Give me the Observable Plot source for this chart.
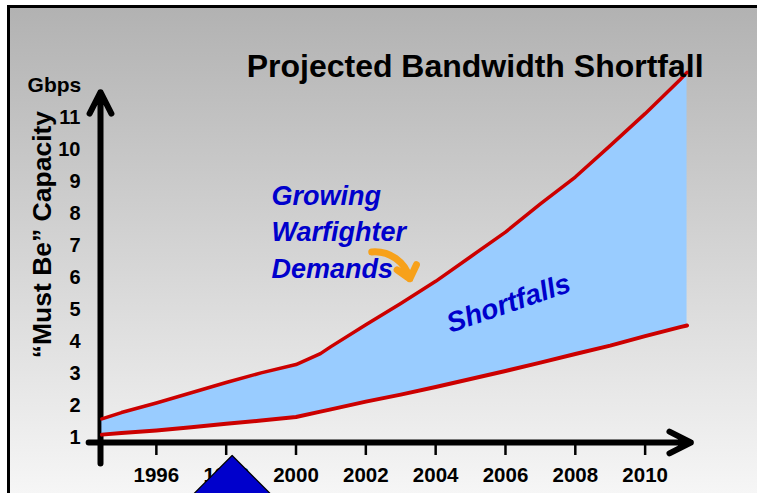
<!DOCTYPE html>
<html><head><meta charset="utf-8">
<script src="https://cdn.jsdelivr.net/npm/d3@7"></script>
<script src="https://cdn.jsdelivr.net/npm/@observablehq/plot@0.6"></script>
<style>
html,body{margin:0;padding:0;background:#fff;}
#wrap{position:relative;width:757px;height:493px;overflow:hidden;background:#fff;}
#slide{position:absolute;left:7px;top:5px;width:800px;height:500px;border:3px solid #000;background:linear-gradient(to bottom,#b2b2b2 0%,#f8f8f8 100%);}
#chart{position:absolute;left:0;top:0;}
</style></head><body>
<div id="wrap"><div id="slide"></div><div id="chart"></div></div>
<script>
// Data
const years = [1994.44, 1995, 1996, 1997, 1998, 1999, 2000, 2000.7, 2001, 2002, 2003, 2004, 2005, 2006, 2007, 2008, 2009, 2010, 2011, 2011.2];
const demand = [1.58, 1.78, 2.08, 2.40, 2.72, 3.02, 3.28, 3.62, 3.84, 4.52, 5.19, 5.88, 6.65, 7.42, 8.30, 9.14, 10.12, 11.12, 12.18, 12.41];
const capacity = [1.09, 1.14, 1.22, 1.32, 1.43, 1.53, 1.64, 1.81, 1.88, 2.12, 2.34, 2.58, 2.83, 3.08, 3.34, 3.61, 3.87, 4.17, 4.45, 4.50];
const xTicks = [1996, 1998, 2000, 2002, 2004, 2006, 2008, 2010];
const xTickLabels = ["1996", "1998", "2000", "2002", "2004", "2006", "2008", "2010"];
const yTicks = [1, 2, 3, 4, 5, 6, 7, 8, 9, 10, 11];
const yTickLabels = ["1", "2", "3", "4", "5", "6", "7", "8", "9", "10", "11"];

// Axis arrows, pointer triangle and annotation anchors (data units)
const axisArrows = [
  {x1: 1994.4, y1: 0.19, x2: 1994.4, y2: 11.79},
  {x1: 1994.06, y1: 0.844, x2: 2011.31, y2: 0.844}
];
const pointer = [
  {x: 1996.31, y: -1.59}, {x: 1998.17, y: 0.4375}, {x: 2000.03, y: -1.59}
];
const demandArrow = [{x1: 2002.17, y1: 6.80, x2: 2003.26, y2: 5.96}];

const rows = years.map((yr, i) => ({year: yr, upper: demand[i], lower: capacity[i]}));

const font = "'Liberation Sans', Arial, Helvetica, sans-serif";
const red = "#cc0000";
const blue = "#0000cc";

const chart = Plot.plot({
  width: 757,
  height: 493,
  marginLeft: 100,
  marginRight: 60,
  marginTop: 85,
  marginBottom: 24,
  style: {background: "transparent", fontFamily: font, overflow: "hidden"},
  x: {domain: [1994.4, 2011.5], axis: null},
  y: {domain: [0, 12], axis: null},
  marks: [
    Plot.arrow(axisArrows, {x1: "x1", y1: "y1", x2: "x2", y2: "y2", stroke: "black", strokeWidth: 6, headLength: 6, headAngle: 54}),
    Plot.ruleX(xTicks, {x: d => d, y1: 0.844, y2: 0.4375, stroke: "black", strokeWidth: 2.5}),
    Plot.areaY(rows, {x: "year", y1: "lower", y2: "upper", fill: "#99ccff", curve: "linear"}),
    Plot.line(rows, {x: "year", y: "upper", stroke: red, strokeWidth: 3.5, curve: "linear"}),
    Plot.line(rows, {x: "year", y: "lower", stroke: red, strokeWidth: 4, curve: "linear"}),
    Plot.text(yTicks, {x: 1994.4, y: d => d, text: (d, i) => yTickLabels[i], textAnchor: "end", dx: -20, lineAnchor: "middle", fontSize: 20, fontWeight: "bold", fill: "black"}),
    Plot.text(xTicks, {x: d => d, y: -0.375, text: (d, i) => xTickLabels[i], textAnchor: "middle", lineAnchor: "bottom", fontSize: 20.5, fontWeight: "bold", fill: "black"}),
    Plot.line(pointer, {x: "x", y: "y", fill: blue, stroke: "black", strokeWidth: 1.2, curve: "linear"}),
    Plot.text(["Projected Bandwidth Shortfall"], {x: 2005.13, y: 12.28, textAnchor: "middle", lineAnchor: "bottom", fontSize: 32, fontWeight: "bold", fill: "black"}),
    Plot.text(["Gbps"], {x: 1993.08, y: 11.81, textAnchor: "middle", lineAnchor: "bottom", fontSize: 21, fontWeight: "bold", fill: "black"}),
    Plot.text(["\u201cMust Be\u201d Capacity"], {x: 1992.97, y: 7.34, rotate: -90, textAnchor: "middle", lineAnchor: "bottom", fontSize: 26.5, fontWeight: "bold", fill: "black"}),
    Plot.arrow(demandArrow, {x1: "x1", y1: "y1", x2: "x2", y2: "y2", bend: 40, stroke: "#f7a11a", strokeWidth: 7, headLength: 4, headAngle: 80}),
    Plot.text(["Growing\nWarfighter\nDemands"], {x: 1999.3, y: 6.0, textAnchor: "start", lineAnchor: "bottom", lineHeight: 1.34, fontSize: 27, fontWeight: "bold", fontStyle: "italic", fill: blue}),
    Plot.text(["Shortfalls"], {x: 2006.09, y: 5.19, rotate: -19, textAnchor: "middle", lineAnchor: "middle", fontSize: 28, fontWeight: "bold", fontStyle: "italic", fill: blue})
  ]
});
document.getElementById("chart").appendChild(chart);
</script>
</body></html>
